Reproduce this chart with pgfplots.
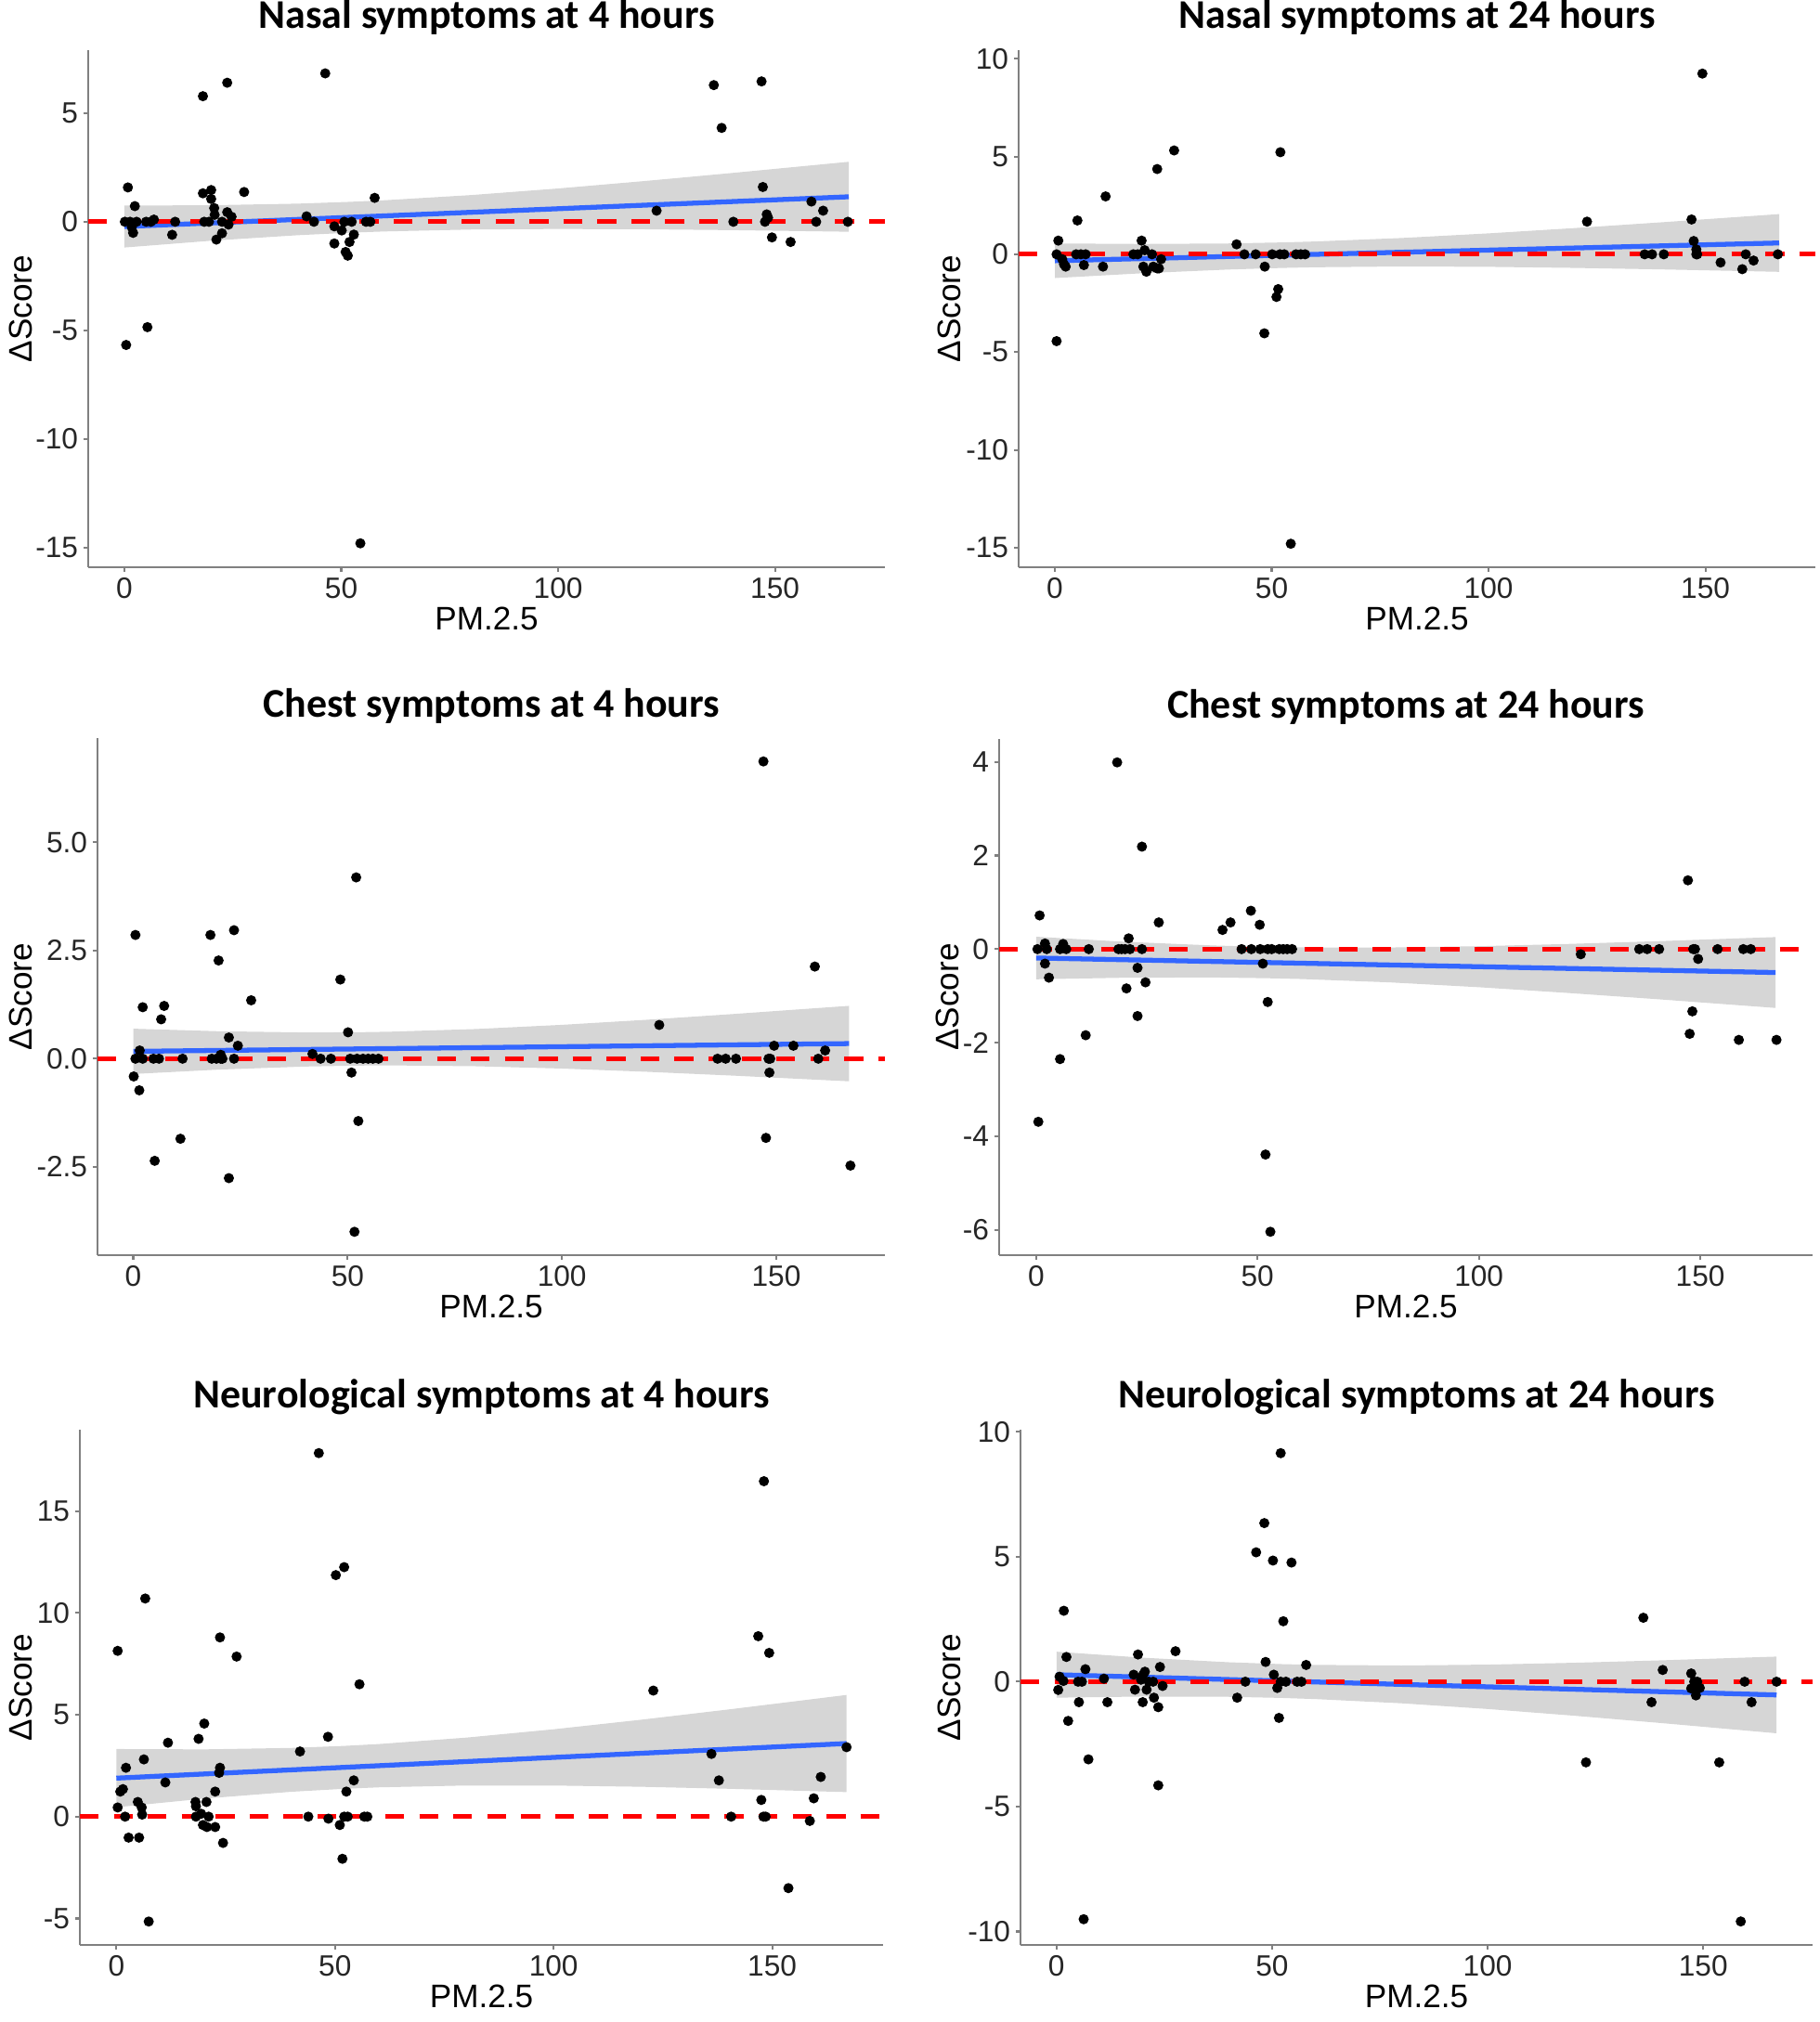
\documentclass[border=0pt]{standalone}
\usepackage{fontspec}
\setmainfont{Liberation Sans}
\newfontfamily\titlefont{Carlito}
\usepackage{pgfplots}
\pgfplotsset{compat=1.18}
\definecolor{smoothblue}{HTML}{3366FF}
\definecolor{bandgray}{HTML}{D6D6D6}
\pgfplotsset{
  every axis title/.style={at={(0.5,1)}, anchor=base, yshift=0.23cm, font=\titlefont\bfseries\fontsize{12.5}{14}\selectfont},
  every axis y label/.style={at={(axis description cs:0,0.5)}, rotate=90, anchor=center},
  every axis x label/.style={at={(axis description cs:0.5,0)}, anchor=base, yshift=-0.676cm},
  panel/.style={
    scale only axis, anchor=south west,
    xmin=-8.35, xmax=175.35,
    axis x line*=bottom, axis y line*=left,
    axis line style={black!50, line width=0.6pt, -},
    every tick/.style={black!50, line width=0.6pt},
    tick align=outside, major tick length=0.05cm,
    xtick={0,50,100,150}, xticklabels={0,50,100,150},
    ticklabel style={font=\fontsize{9}{10}\selectfont, text=black!85},
    xticklabel style={inner sep=1.5pt},
    yticklabel style={inner sep=1.5pt},
    xlabel={PM.2.5}, ylabel={ΔScore},
    label style={font=\fontsize{10}{12}\selectfont},
    clip=true,
  },
  band/.style={fill=bandgray, draw=none},
  fit/.style={smoothblue, line width=1.5pt},
  zero/.style={red, line width=1.4pt, dash pattern=on 5.8pt off 4.6pt},
  pts/.style={only marks, mark=*, mark size=1.35pt, black},
}
\begin{document}
\begin{tikzpicture}
\path[use as bounding box] (0,0) rectangle (19.6,21.78);

% ---------- Panel 1: Nasal 4h ----------
\begin{axis}[panel, at={(0.95cm,15.67cm)}, width=8.58cm, height=5.57cm,
  ymin=-15.9, ymax=7.9, ytick={-15,-10,-5,0,5}, yticklabels={-15,-10,-5,0,5},
  ylabel style={yshift=0.73cm},
  title={Nasal symptoms at 4 hours}]
\addplot[band] coordinates {(0,0.745) (20,0.760) (40,0.834) (52,0.917) (60,0.990) (80,1.229) (100,1.532) (120,1.875) (140,2.243) (167,2.760)
 (167,-0.460) (140,-0.385) (120,-0.347) (100,-0.332) (80,-0.357) (60,-0.446) (52,-0.503) (40,-0.618) (20,-0.872) (0,-1.185)} -- cycle;
\addplot[fit] coordinates {(0,-0.22) (167,1.15)};
\addplot[zero] coordinates {(-8.35,0) (175.35,0)};
\addplot[pts] coordinates {
(0.8,1.58) (0.1,0) (0.4,-5.67) (1.7,-0.25) (2,-0.51) (2.4,0.72) (1.3,0) (2.8,0)
(5,0) (6.1,0) (6.8,0.1) (5.3,-4.85) (11,-0.6) (11.7,0)
(18.1,5.78) (18.1,1.31) (20,1.46) (20,1.05) (18.4,0) (19.5,0) (20.7,0.63) (20.8,0.32)
(21.2,-0.82) (22.5,0) (22.5,-0.53) (23.7,6.4) (23.7,0.44) (24,-0.13) (24.7,0.23) (27.6,1.37)
(42,0.25) (43.7,0) (46.3,6.83) (48.4,-0.21) (48.4,-1.0) (50.1,-0.4) (50.7,0) (51,-1.39)
(51.5,-1.56) (51.9,-0.93) (52.4,0) (52.9,-0.59) (54.4,-14.8) (55.7,0) (56.7,0) (57.7,1.1)
(122.7,0.51) (135.9,6.29) (137.7,4.32) (140.4,0) (146.9,6.46) (147.2,1.6) (147.7,0)
(148.1,0.34) (148.4,0.19) (149.3,-0.72) (153.6,-0.93) (158.4,0.93) (159.5,0) (161.1,0.51) (166.8,0)};
\end{axis}

% ---------- Panel 2: Nasal 24h ----------
\begin{axis}[panel, at={(10.97cm,15.67cm)}, width=8.58cm, height=5.57cm,
  ymin=-16.0, ymax=10.44, ytick={-15,-10,-5,0,5,10}, yticklabels={-15,-10,-5,0,5,10},
  ylabel style={yshift=0.75cm},
  title={Nasal symptoms at 24 hours}]
\addplot[band] coordinates {(0,0.555) (20,0.528) (40,0.554) (52,0.605) (60,0.655) (80,0.833) (100,1.070) (120,1.343) (140,1.638) (167,2.056)
 (167,-0.896) (140,-0.772) (120,-0.695) (100,-0.640) (80,-0.621) (60,-0.661) (52,-0.699) (40,-0.778) (20,-0.970) (0,-1.215)} -- cycle;
\addplot[fit] coordinates {(0,-0.33) (167,0.58)};
\addplot[zero] coordinates {(-8.35,0) (175.35,0)};
\addplot[pts] coordinates {
(0.8,0.70) (0.4,0) (0.4,-4.44) (1.7,-0.25) (2.1,-0.51) (2.5,-0.63) (5.2,1.73) (4.9,0) (6,0) (7.1,0)
(6.7,-0.55) (11.1,-0.63) (11.7,2.96) (18.1,0) (19.1,0) (20,0.70) (20.7,0.21) (20.4,-0.63) (21.1,-0.89)
(22.4,0) (22.7,-0.63) (23.6,-0.72) (24,-0.72) (24.5,-0.25) (23.6,4.36) (27.5,5.31)
(41.9,0.51) (43.7,0) (46.3,0) (48.4,-0.63) (48.3,-4.04) (50.1,0) (51.1,-2.18) (51.5,-1.78) (52,5.22)
(51.9,0) (52.9,0) (54.4,-14.8) (55.6,0) (56.7,0) (57.7,0)
(122.7,1.67) (136,0) (137.7,0) (140.4,0) (146.8,1.78) (147.3,0.68) (147.9,0.25) (147.9,0) (148.1,0)
(149.3,9.24) (153.5,-0.42) (158.5,-0.76) (159.3,0) (161.1,-0.32) (166.7,0)};
\end{axis}

% ---------- Panel 3: Chest 4h ----------
\begin{axis}[panel, at={(1.05cm,8.26cm)}, width=8.48cm, height=5.57cm,
  ymin=-4.54, ymax=7.41, ytick={-2.5,0,2.5,5}, yticklabels={-2.5,0.0,2.5,5.0},
  ylabel style={yshift=0.83cm},
  title={Chest symptoms at 4 hours}]
\addplot[band] coordinates {(0,0.693) (20,0.634) (40,0.607) (52,0.611) (60,0.624) (80,0.686) (100,0.783) (120,0.901) (140,1.033) (167,1.222)
 (167,-0.522) (140,-0.391) (120,-0.303) (100,-0.227) (80,-0.174) (60,-0.154) (52,-0.159) (40,-0.181) (20,-0.251) (0,-0.353)} -- cycle;
\addplot[fit] coordinates {(0,0.17) (167,0.35)};
\addplot[zero] coordinates {(-8.35,0) (175.35,0)};
\addplot[pts] coordinates {
(0.5,2.86) (0.1,-0.41) (1.5,0.19) (1.4,-0.73) (2.2,1.19) (0.5,0) (2.2,0) (5,-2.36) (4.7,0) (6,0)
(6.5,0.91) (7.2,1.22) (11,-1.85) (11.5,0) (18,2.86) (18.3,0) (19.4,0) (19.9,2.27) (20.4,0.09) (20.4,0)
(20.8,0) (22.3,0.49) (22.3,-2.76) (23.5,2.97) (23.5,0) (24.4,0.30) (27.5,1.35)
(41.8,0.11) (43.7,0) (46.1,0) (48.3,1.83) (50.1,0.61) (50.9,-0.32) (50.6,0) (52,4.19) (51.6,-4.0)
(52.5,-1.44) (52.2,0) (53.6,0) (54.8,0) (55.9,0) (57.2,0)
(122.7,0.78) (136.3,0) (138.2,0) (140.6,0) (147,6.87) (147.6,-1.83) (148.2,0) (148.6,0) (148.4,-0.32)
(149.5,0.30) (154,0.30) (159,2.13) (159.8,0) (161.4,0.19) (167.3,-2.47)};
\end{axis}

% ---------- Panel 4: Chest 24h ----------
\begin{axis}[panel, at={(10.76cm,8.26cm)}, width=8.76cm, height=5.56cm,
  ymin=-6.54, ymax=4.49, ytick={-6,-4,-2,0,2,4}, yticklabels={-6,-4,-2,0,2,4},
  ylabel style={yshift=0.56cm},
  title={Chest symptoms at 24 hours}]
\addplot[band] coordinates {(0,0.264) (20,0.157) (40,0.078) (52,0.047) (60,0.037) (80,0.035) (100,0.062) (120,0.110) (140,0.168) (167,0.257)
 (167,-1.257) (140,-1.068) (120,-0.936) (100,-0.814) (80,-0.711) (60,-0.639) (52,-0.621) (40,-0.606) (20,-0.611) (0,-0.644)} -- cycle;
\addplot[fit] coordinates {(0,-0.19) (167,-0.50)};
\addplot[zero] coordinates {(-8.35,0) (175.35,0)};
\addplot[pts] coordinates {
(0.8,0.72) (0.5,-3.69) (0.3,0) (2,0.12) (2,-0.31) (2.4,0) (2.9,-0.61) (5.4,-2.35) (5.4,0) (6.1,0.11) (6.8,0)
(11.2,-1.84) (11.9,0) (18.3,3.99) (18.6,0) (19.3,0) (20.1,0) (21.2,0) (20.4,-0.84) (20.9,0.23)
(22.9,-0.4) (22.9,-1.43) (23.9,2.19) (23.9,0) (24.7,-0.71) (27.7,0.57)
(42.1,0.41) (43.9,0.57) (46.4,0) (48.6,0) (48.5,0.82) (50.5,0.52) (50.6,0) (51.2,-0.31) (51.8,-4.39)
(52.3,-1.13) (52.3,0) (53.2,0) (54.9,0) (55.8,0) (56.7,0) (57.8,0) (52.9,-6.04)
(123,-0.11) (136.2,0) (138,0) (140.7,0) (147.2,1.47) (147.6,-1.81) (148.2,-1.33) (148.4,0) (148.8,0)
(149.5,-0.21) (153.9,0) (158.7,-1.94) (159.7,0) (161.4,0) (167.2,-1.94)};
\end{axis}

% ---------- Panel 5: Neuro 4h ----------
\begin{axis}[panel, at={(0.86cm,0.83cm)}, width=8.65cm, height=5.55cm,
  ymin=-6.3, ymax=19.0, ytick={-5,0,5,10,15}, yticklabels={-5,0,5,10,15},
  ylabel style={yshift=0.64cm},
  title={Neurological symptoms at 4 hours}]
\addplot[band] coordinates {(0,3.32) (20,3.303) (40,3.373) (52,3.472) (60,3.564) (80,3.879) (100,4.289) (120,4.758) (140,5.262) (167,5.975)
 (167,1.205) (140,1.368) (120,1.466) (100,1.527) (80,1.529) (60,1.438) (52,1.366) (40,1.221) (20,0.884) (0,0.46)} -- cycle;
\addplot[fit] coordinates {(0,1.89) (167,3.59)};
\addplot[zero] coordinates {(-8.35,0) (175.35,0)};
\addplot[pts] coordinates {
(0.3,8.14) (0.3,0.45) (0.9,1.23) (1.5,1.35) (2,0) (2.2,2.4) (2.8,-1.03) (4.9,0.72) (5.2,-1.03)
(5.8,0.45) (5.9,0.1) (6.3,2.81) (6.6,10.71) (7.4,-5.15) (11.2,1.68) (11.8,3.63)
(18.1,0.72) (18.2,0.51) (18.2,0) (18.8,3.82) (19.4,0.14) (20.1,4.57) (19.8,-0.41) (20.6,0.72)
(20.7,-0.51) (21.1,0) (22.6,1.23) (22.6,-0.51) (23.7,8.8) (23.7,2.4) (23.5,2.15) (24.4,-1.29) (27.5,7.86)
(42,3.2) (43.9,0) (46.3,17.85) (48.4,3.92) (48.5,-0.1) (50.2,11.86) (51.1,-0.41) (51.7,-2.07)
(52.1,12.25) (52.1,0) (52.9,0) (52.6,1.23) (54.3,1.78) (55.6,6.5) (56.7,0) (57.4,0)
(122.8,6.19) (136.1,3.08) (137.8,1.78) (140.6,0) (146.8,8.86) (147.5,0.82) (148,0) (148.5,0)
(148.1,16.47) (149.3,8.04) (153.7,-3.51) (158.6,-0.21) (159.5,0.9) (161.1,1.95) (167,3.41)};
\end{axis}

% ---------- Panel 6: Neuro 24h ----------
\begin{axis}[panel, at={(10.99cm,0.83cm)}, width=8.53cm, height=5.55cm,
  ymin=-10.54, ymax=10.09, ytick={-10,-5,0,5,10}, yticklabels={-10,-5,0,5,10},
  ylabel style={yshift=0.77cm},
  title={Neurological symptoms at 24 hours}]
\addplot[band] coordinates {(0,1.20) (20,0.961) (40,0.778) (52,0.705) (60,0.673) (80,0.648) (100,0.683) (120,0.757) (140,0.854) (167,1.005)
 (167,-2.065) (140,-1.652) (120,-1.361) (100,-1.093) (80,-0.864) (60,-0.695) (52,-0.649) (40,-0.606) (20,-0.595) (0,-0.64)} -- cycle;
\addplot[fit] coordinates {(0,0.28) (167,-0.53)};
\addplot[zero] coordinates {(-8.35,0) (175.35,0)};
\addplot[pts] coordinates {
(0.4,-0.33) (0.7,0.2) (1.6,0.03) (1.7,2.84) (2.3,0.99) (2.7,-1.57) (5,0) (5.9,0) (5.2,-0.82) (6.7,0.5)
(6.3,-9.51) (7.4,-3.11) (11,0.12) (11.8,-0.82) (17.9,0.28) (18.2,-0.32) (18.9,1.09) (19.6,0.08)
(20,-0.82) (20.1,0.28) (20.5,0.4) (20.9,-0.32) (21.4,0) (22.4,0) (22.6,-0.64) (23.6,-1.02)
(23.6,-4.15) (24,0.59) (24.6,-0.17) (27.6,1.22)
(41.9,-0.64) (43.8,0) (46.3,5.18) (48.2,6.35) (48.5,0.79) (50.2,4.85) (50.4,0.28) (51.2,-0.25)
(51.6,-1.45) (52,9.15) (52,0) (53.2,0) (52.6,2.42) (54.5,4.77) (55.8,0) (56.8,0) (57.9,0.67)
(122.8,-3.23) (136.1,2.56) (138,-0.82) (140.6,0.47) (147.2,0.33) (147.2,-0.27) (147.9,0) (148.3,-0.55)
(148.6,0) (149.2,-0.25) (153.7,-3.23) (158.7,-9.6) (159.6,0) (161.2,-0.82) (167,0)};
\end{axis}
\end{tikzpicture}
\end{document}
